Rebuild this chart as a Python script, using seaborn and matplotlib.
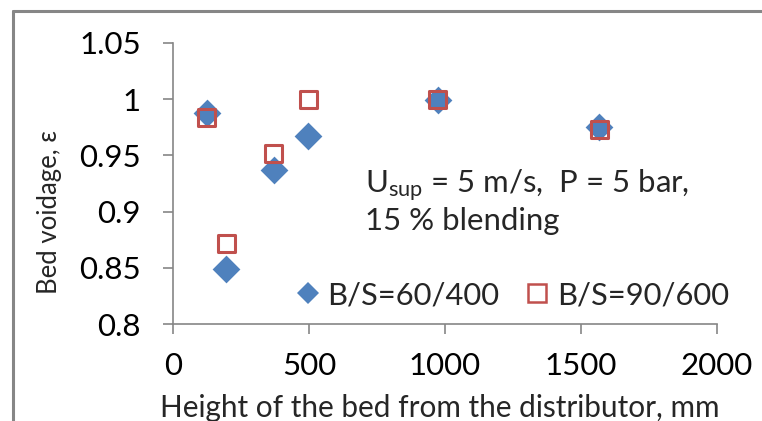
import matplotlib
matplotlib.use("Agg")
import matplotlib.pyplot as plt
import seaborn as sns
import pandas as pd
from matplotlib.lines import Line2D

# ---- data ----
height_mm = [124, 195, 370, 498, 973, 1567]
voidage_60_400 = [0.988, 0.849, 0.937, 0.967, 0.999, 0.975]
voidage_90_600 = [0.984, 0.872, 0.952, 1.000, 1.000, 0.973]
series_labels = ["B/S=60/400", "B/S=90/600"]
x_ticks = [0, 500, 1000, 1500, 2000]
y_ticks = [0.8, 0.85, 0.9, 0.95, 1.0, 1.05]
y_tick_labels = ["0.8", "0.85", "0.9", "0.95", "1", "1.05"]
note_line1 = "U$_{\\mathrm{sup}}$ = 5 m/s,  P = 5 bar,"
note_line2 = "15 % blending"

BLUE = "#4F81BD"
RED = "#C0504D"
GRAY = "#868686"

sns.set_style("white")
plt.rcParams["font.family"] = ["Lato", "DejaVu Sans"]
plt.rcParams["mathtext.fontset"] = "custom"
plt.rcParams["mathtext.rm"] = "Lato"
plt.rcParams["mathtext.it"] = "Lato"

df_a = pd.DataFrame({"x": height_mm, "y": voidage_60_400})
df_b = pd.DataFrame({"x": height_mm, "y": voidage_90_600})

W, H = 762, 421
fig = plt.figure(figsize=(W / 100, H / 100), dpi=100)
ax = fig.add_axes([173 / W, 1 - 324 / H, (717 - 173) / W, (324 - 43) / H])

sns.scatterplot(data=df_a, x="x", y="y", ax=ax, marker="D", s=200,
                color=BLUE, edgecolor=BLUE, linewidth=0, zorder=3)
sns.scatterplot(data=df_b, x="x", y="y", ax=ax, marker="s", s=150,
                color=RED, edgecolor=RED, linewidth=2.2, zorder=4)
ax.collections[1].set_facecolor("none")

ax.set_xlim(0, 2000)
ax.set_ylim(0.8, 1.05)
ax.set_xticks(x_ticks)
ax.set_xticklabels([str(t) for t in x_ticks])
ax.set_yticks(y_ticks)
ax.set_yticklabels(y_tick_labels)

for s in ["top", "right"]:
    ax.spines[s].set_visible(False)
for s in ["left", "bottom"]:
    ax.spines[s].set_color(GRAY)
    ax.spines[s].set_linewidth(1.2)

ax.tick_params(axis="both", which="major", direction="out", length=7,
               width=1.2, color=GRAY, labelsize=22.5, labelcolor="black")
ax.tick_params(axis="y", pad=16, left=True)
ax.tick_params(axis="x", pad=13, bottom=True)

ax.set_xlabel("Height of the bed from the distributor, mm", fontsize=21.4)
ax.xaxis.set_label_coords(0.4905, -0.25)
ax.set_ylabel("Bed voidage, ε", fontsize=18.5)
ax.yaxis.set_label_coords(-0.204, 0.398)

tx = (365 - 173) / 544
ax.text(tx, (324 - 193) / 281, note_line1, transform=ax.transAxes,
        fontsize=22.4, va="baseline", ha="left")
ax.text(tx, (324 - 230) / 281, note_line2, transform=ax.transAxes,
        fontsize=22.4, va="baseline", ha="left")

handles = [
    Line2D([], [], marker="D", color=BLUE, linestyle="none", markersize=11, markeredgewidth=0),
    Line2D([], [], marker="s", markerfacecolor="none", markeredgecolor=RED,
           linestyle="none", markersize=12.5, markeredgewidth=1.8),
]
ax.legend(handles, series_labels, ncol=2, frameon=False, fontsize=22.2,
          loc="center left", bbox_to_anchor=((292 - 173) / 544, (324 - 295) / 281),
          handletextpad=0.1, columnspacing=0.7, handlelength=1.05,
          borderpad=0, borderaxespad=0)

# outer chart frame (cropped)
fig.add_artist(Line2D([13 / W, 13 / W], [0, 1 - 11 / H], transform=fig.transFigure,
                      color=GRAY, linewidth=2.2))
fig.add_artist(Line2D([13 / W, 1], [1 - 11 / H, 1 - 11 / H], transform=fig.transFigure,
                      color=GRAY, linewidth=2.2))

fig.savefig("out.png", dpi=100)
